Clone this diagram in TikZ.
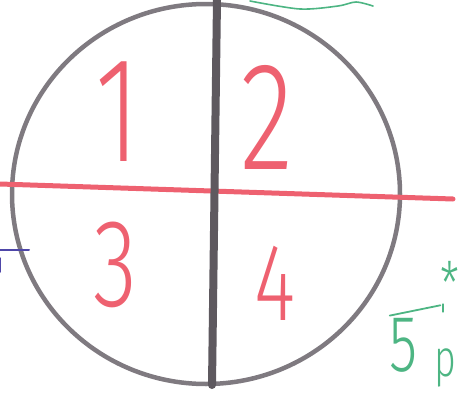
\documentclass[tikz,border=0pt]{standalone}
\usepackage{fontspec}
\setmainfont{Liberation Sans}
\newfontfamily\handfont[FakeStretch=0.72]{Fira Sans Light}
\usetikzlibrary{shapes.geometric}
\definecolor{cred}{HTML}{EE6170}
\definecolor{cgrey}{HTML}{7F7A80}
\definecolor{cdark}{HTML}{5E595F}
\definecolor{cgreen}{HTML}{4DB583}
\definecolor{cblue}{HTML}{4E46A8}
\tikzset{
  every picture/.style={line cap=round, line join=round},
  digit/.style={text=cred, font=\handfont\fontsize{#1}{#1}\selectfont, inner sep=0pt},
  digit/.default=145,
  scribble/.style={text=cgreen, font=\handfont\fontsize{#1}{#1}\selectfont, inner sep=0pt},
  scribble/.default=80,
  divider/.style={draw=#1, line width=5pt},
}
\begin{document}
\begin{tikzpicture}[x=1pt, y=-1pt]
  \useasboundingbox (0,0) rectangle (461,394);
  % the disc and its two dividers
  \node[draw=cgrey, line width=4.5pt, ellipse, minimum width=388pt, minimum height=380pt] (disc) at (206,194) {};
  \coordinate (hl) at (0,184);
  \coordinate (hr) at (453,199);
  \coordinate (vt) at (217,0);
  \coordinate (vb) at (212,385);
  \draw[divider=cred] (hl) -- (hr);
  \draw[divider=cdark, line width=8pt] (vt) -- (vb);
  % quarter numbers
  \node[digit=150] (q1) at (118,112) {1};
  \node[digit=154] (q2) at (267,117) {2};
  \node[digit=125] (q3) at (115,265) {3};
  \node[digit=110] (q4) at (275,283) {4};
  % margin marks
  \coordinate (bl) at (0,250);
  \coordinate (br) at (29,250);
  \draw[cblue, line width=2pt] (bl) -- (br);
  \draw[cblue, line width=1.5pt] (0,258) -- (0,272);
  \draw[cgreen, line width=1.6pt] plot[smooth] coordinates {(250,1) (300,9) (338,6) (356,2) (373,6)};
  \node[scribble, anchor=base] (five) at (404,371) {5};
  \node[scribble=52, anchor=base] (pp) at (445,376) {p};
  \node[scribble=60] (star) at (450,283) {*};
  \coordinate (tick) at (443,304);
  \draw[cgreen, line width=1.8pt] (five.north west) ++(0,-2) -- (star.south west);
  \draw[cgreen, line width=1.2pt] (tick) -- +(0,8);
\end{tikzpicture}
\end{document}
